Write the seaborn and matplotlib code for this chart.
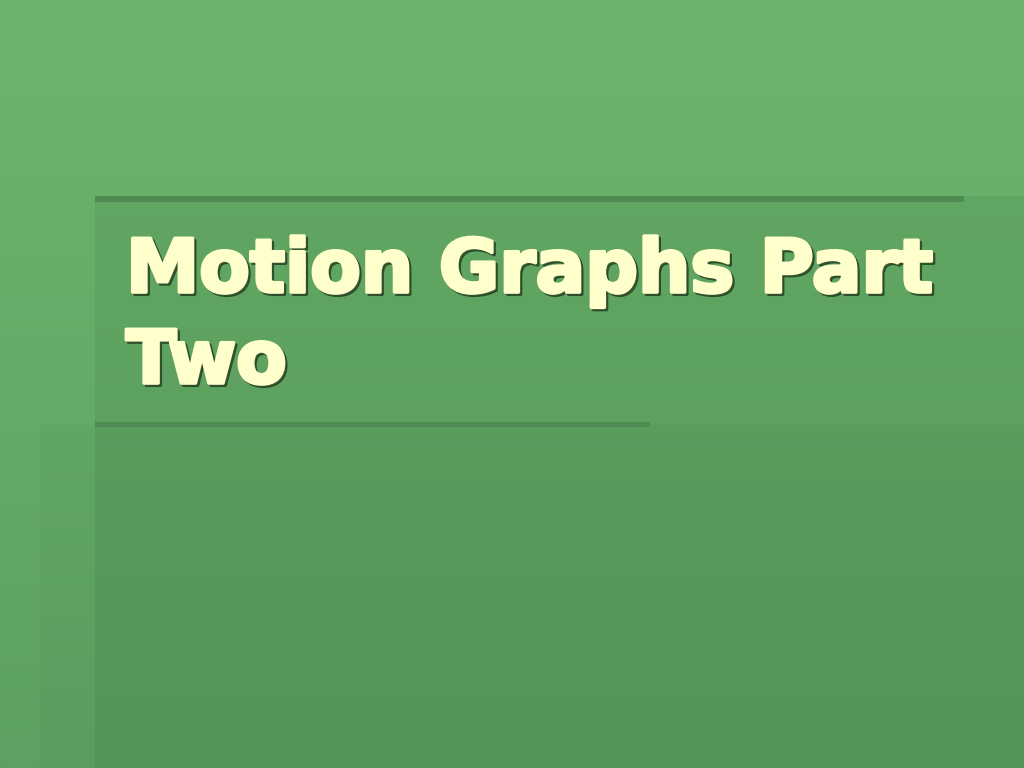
import numpy as np
import matplotlib
matplotlib.use("Agg")
import matplotlib.pyplot as plt
import matplotlib.patheffects as pe
import seaborn as sns

# slide title, two lines
title_lines = ["Motion Graphs Part", "Two"]

# background colours (top -> bottom)
bg_top = np.array([109, 181, 109]) / 255
bg_bottom = np.array([93, 160, 97]) / 255

sns.set_style("white")
plt.rcParams['font.family'] = ['DejaVu Sans']

fig = plt.figure(figsize=(10.24, 7.68), dpi=100)
ax = fig.add_axes([0, 0, 1, 1])
ax.set_xlim(0, 1024)
ax.set_ylim(768, 0)
ax.axis('off')

# vertical gradient background
t = np.linspace(0, 1, 256)[:, None]
grad = bg_top[None, None, :] * (1 - t[..., None]) + bg_bottom[None, None, :] * t[..., None]
grad = np.repeat(grad, 2, axis=1)
ax.imshow(grad, extent=[0, 1024, 768, 0], aspect='auto', zorder=0)

# darker title panel and lower panel
ax.add_patch(plt.Rectangle((95, 196), 929, 572, color='#1f4a22', alpha=0.09, lw=0, zorder=1))
ax.add_patch(plt.Rectangle((40, 425), 984, 343, color='#1f4a22', alpha=0.04, lw=0, zorder=1))
# thin dark rules
ax.add_patch(plt.Rectangle((95, 196), 869, 6, color='#4e8a51', lw=0, zorder=2))
ax.add_patch(plt.Rectangle((95, 422), 555, 5, color='#4e8a51', lw=0, zorder=2))

cream = '#ffffcc'
effects = [pe.Stroke(linewidth=2.6, foreground='#23401f', alpha=0.85, offset=(1.6, -1.6)),
           pe.Stroke(linewidth=2.6, foreground=cream),
           pe.Normal()]
baselines = [292, 383]
for line, yb in zip(title_lines, baselines):
    ax.text(126, yb, line, fontsize=53, fontweight='bold', color=cream,
            ha='left', va='baseline', path_effects=effects, zorder=3)

fig.savefig('out.png', dpi=100)
